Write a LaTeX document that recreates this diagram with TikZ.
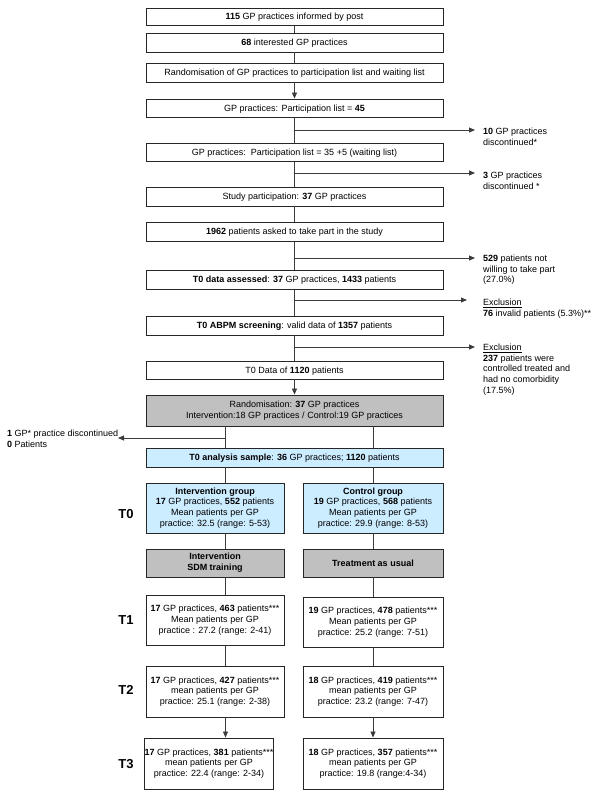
\documentclass[tikz,border=0pt]{standalone}
\usepackage{fontspec}
\setmainfont{Liberation Sans}
\usetikzlibrary{arrows.meta}
\definecolor{boxgray}{RGB}{192,192,192}
\definecolor{boxblue}{RGB}{204,236,255}
\definecolor{linec}{RGB}{60,60,60}
\begin{document}
\begin{tikzpicture}[x=1pt,y=-1pt,
  every node/.style={font=\fontsize{9}{10.8}\selectfont, inner sep=0pt},
  mainbox/.style={draw=black!85, line width=0.9pt, align=center, minimum width=297, minimum height=19},
  subbox/.style={draw=black!85, line width=0.9pt, align=center, minimum height=50},
  oneline/.style={text height=7pt, text depth=0.8pt},
  grayfill/.style={fill=boxgray},
  bluefill/.style={fill=boxblue},
  sidetxt/.style={anchor=north west, align=left},
  tlab/.style={font=\bfseries\fontsize{13}{13}\selectfont},
  conn/.style={draw=linec, line width=0.8pt},
  arr/.style={conn, -{Triangle[length=6pt,width=5pt]}}
]
\useasboundingbox (0,0) rectangle (600,794);
% main column
\node[mainbox, oneline, minimum height=17] (b1) at (294.5,16.5) {\textbf{115} GP practices informed by post};
\node[mainbox, oneline] (b2) at (294.5,42.5) {\textbf{68} interested GP practices};
\node[mainbox, oneline] (b3) at (294.5,72.5) {Randomisation of GP practices to participation list and waiting list};
\node[mainbox, oneline, minimum height=18] (b4) at (294.5,108) {GP practices: Participation list = \textbf{45}};
\node[mainbox, oneline, minimum height=18] (b5) at (294.5,152) {GP practices:\ \ Participation list = 35 +5 (waiting list)};
\node[mainbox, oneline] (b6) at (294.5,196.5) {Study participation: \textbf{37} GP practices};
\node[mainbox, oneline] (b7) at (294.5,231.5) {\textbf{1962} patients asked to take part in the study};
\node[mainbox, oneline] (b8) at (294.5,279.5) {\textbf{T0 data assessed}: \textbf{37} GP practices, \textbf{1433} patients};
\node[mainbox, oneline] (b9) at (294.5,325.5) {\textbf{T0 ABPM screening}: valid data of \textbf{1357} patients};
\node[mainbox, oneline, minimum height=18] (b10) at (294.5,370) {T0 Data of \textbf{1120} patients};
\node[mainbox, grayfill, minimum height=31] (rand) at (294.5,410.5) {Randomisation: \textbf{37} GP practices\\Intervention:18 GP practices / Control:19 GP practices};
\node[mainbox, oneline, bluefill] (ana) at (294.5,457.5) {\textbf{T0 analysis sample}: \textbf{36} GP practices; \textbf{1120} patients};

\draw[conn] (b1) -- (b2);
\draw[conn] (b2) -- (b3);
\draw[arr] (b3) -- (b4);
\draw[conn] (b4) -- (b5);
\draw[conn] (b5) -- (b6);
\draw[conn] (b6) -- (b7);
\draw[conn] (b7) -- (b8);
\draw[conn] (b8) -- (b9);
\draw[conn] (b9) -- (b10);
\draw[arr] (b10) -- (rand);

% side texts
\node[sidetxt] (s1) at (483,127.5) {\textbf{10} GP practices\\discontinued*};
\node[sidetxt] (s2) at (483,171.5) {\textbf{3} GP practices\\discontinued *};
\node[sidetxt] (s3) at (483,254.5) {\textbf{529} patients not\\willing to take part\\(27.0\%)};
\node[sidetxt] (s4) at (483,298.5) {\underline{Exclusion}\\\textbf{76} invalid patients (5.3\%)**};
\node[sidetxt] (s5) at (483,343.5) {\underline{Exclusion}\\\textbf{237} patients were\\controlled treated and\\had no comorbidity\\(17.5\%)};
\coordinate (j1) at (294.5,130); \coordinate (e1) at (475,130);
\coordinate (j2) at (294.5,173); \coordinate (e2) at (475,173);
\coordinate (j3) at (294.5,258); \coordinate (e3) at (475,258);
\coordinate (j4) at (294.5,300); \coordinate (e4) at (467,300);
\coordinate (j5) at (294.5,347); \coordinate (e5) at (475,347);
\draw[arr] (j1) -- (e1);
\draw[arr] (j2) -- (e2);
\draw[arr] (j3) -- (e3);
\draw[arr] (j4) -- (e4);
\draw[arr] (j5) -- (e5);

% split lines
\coordinate (lx) at (225.5,0);
\coordinate (rx) at (373,0);
\draw[conn] (rand.south -| lx) -- (ana.north -| lx);
\draw[conn] (rand.south -| rx) -- (ana.north -| rx);
\node[sidetxt] (dl) at (7,429.5) {\textbf{1} GP* practice discontinued\\\textbf{0} Patients};
\coordinate (jl) at (225.5,438); \coordinate (el) at (118,438);
\draw[arr] (jl) -- (el);

% two arms
\node[subbox, bluefill, minimum width=138] (ig) at (215,508) {\textbf{Intervention group}\\\textbf{17} GP practices, \textbf{552} patients\\Mean patients per GP\\practice: 32.5 (range: 5-53)};
\node[subbox, bluefill, minimum width=140] (cg) at (373,508) {\textbf{Control group}\\\textbf{19} GP practices, \textbf{568} patients\\Mean patients per GP\\practice: 29.9 (range: 8-53)};
\node[subbox, grayfill, minimum width=138, minimum height=28] (sdm) at (215,563) {\textbf{Intervention}\\\textbf{SDM training}};
\node[subbox, oneline, grayfill, minimum width=140, minimum height=28] (tau) at (373,563) {\textbf{Treatment as usual}};
\node[subbox, minimum width=138] (t1l) at (215,620) {\textbf{17} GP practices, \textbf{463} patients***\\Mean patients per GP\\practice : 27.2 (range: 2-41)};
\node[subbox, minimum width=140] (t1r) at (373,622) {\textbf{19} GP practices, \textbf{478} patients***\\Mean patients per GP\\practice: 25.2 (range: 7-51)};
\node[subbox, minimum width=138, minimum height=51] (t2l) at (215,691.5) {\textbf{17} GP practices, \textbf{427} patients***\\mean patients per GP\\practice: 25.1 (range: 2-38)};
\node[subbox, minimum width=140, minimum height=51] (t2r) at (373,691.5) {\textbf{18} GP practices, \textbf{419} patients***\\mean patients per GP\\practice: 23.2 (range: 7-47)};
\node[subbox, minimum width=126, minimum height=51] (t3l) at (209,763.5) {\textbf{17} GP practices, \textbf{381} patients***\\mean patients per GP\\practice: 22.4 (range: 2-34)};
\node[subbox, minimum width=140, minimum height=51] (t3r) at (373,763.5) {\textbf{18} GP practices, \textbf{357} patients***\\mean patients per GP\\practice: 19.8 (range:4-34)};

\draw[conn] (ana.south -| lx) -- (ig.north -| lx);
\draw[conn] (ana.south -| rx) -- (cg.north -| rx);
\draw[conn] (ig.south -| lx) -- (sdm.north -| lx);
\draw[conn] (cg.south -| rx) -- (tau.north -| rx);
\draw[conn] (sdm.south -| lx) -- (t1l.north -| lx);
\draw[conn] (tau.south -| rx) -- (t1r.north -| rx);
\draw[conn] (t1l.south -| lx) -- (t2l.north -| lx);
\draw[conn] (t1r.south -| rx) -- (t2r.north -| rx);
\draw[arr] (t2l.south -| lx) -- (t3l.north -| lx);
\draw[arr] (t2r.south -| rx) -- (t3r.north -| rx);

% time labels
\node[tlab] (t0) at (126,514) {T0};
\node[tlab] (t1) at (126,620) {T1};
\node[tlab] (t2) at (126,690) {T2};
\node[tlab] (t3) at (126,764) {T3};
\end{tikzpicture}
\end{document}
